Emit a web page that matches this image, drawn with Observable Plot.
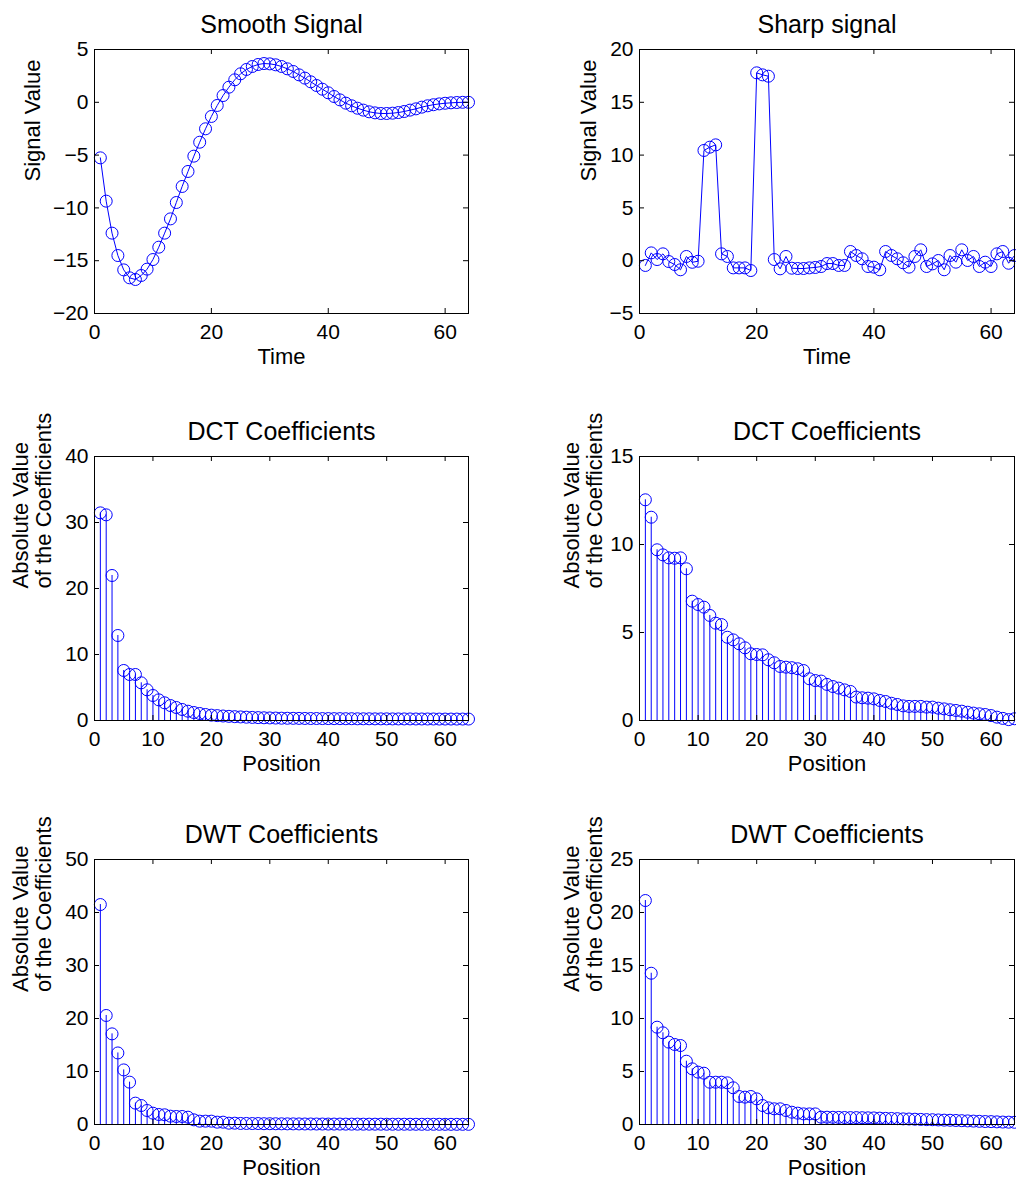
<!DOCTYPE html>
<html><head><meta charset="utf-8">
<script src="https://cdn.jsdelivr.net/npm/d3@7"></script>
<script src="https://cdn.jsdelivr.net/npm/@observablehq/plot@0.6"></script>
<style>
body{margin:0;background:#fff;}
#fig{position:relative;width:1016px;height:1178px;background:#fff;overflow:hidden;}
#fig svg{position:absolute;}
</style></head><body><div id="fig"></div>
<script>
// ---------- data ----------
const positions = d3.range(1, 65);

const smoothSignal = [-5.26,-9.36,-12.39,-14.51,-15.87,-16.62,-16.78,-16.40,-15.80,-14.89,-13.72,-12.39,-11.04,-9.49,-7.97,-6.55,-5.10,-3.78,-2.51,-1.34,-0.30,0.64,1.43,2.13,2.70,3.11,3.39,3.58,3.67,3.64,3.55,3.39,3.17,2.92,2.60,2.29,1.94,1.59,1.24,0.90,0.55,0.23,-0.08,-0.33,-0.56,-0.74,-0.90,-1.00,-1.06,-1.06,-1.03,-0.97,-0.87,-0.74,-0.62,-0.46,-0.33,-0.23,-0.15,-0.09,-0.05,-0.02,0.0,0.0];

const sharpSignal = [-0.45,0.74,0.11,0.65,-0.08,-0.36,-0.86,0.40,-0.15,-0.05,10.44,10.75,10.97,0.65,0.40,-0.68,-0.68,-0.68,-0.93,17.79,17.60,17.47,0.11,-0.77,0.40,-0.71,-0.74,-0.74,-0.68,-0.64,-0.55,-0.27,-0.27,-0.45,-0.45,0.87,0.49,0.18,-0.55,-0.61,-0.86,0.87,0.49,0.18,-0.20,-0.61,0.40,1.03,-0.55,-0.30,0.02,-0.86,0.49,-0.14,1.03,0.02,0.40,-0.55,-0.14,-0.55,0.65,0.87,-0.24,0.49];

const dctSmooth = [31.46,31.16,21.97,12.88,7.58,6.97,6.97,5.71,4.65,3.79,3.13,2.68,2.27,1.97,1.67,1.41,1.21,1.06,0.91,0.81,0.74,0.68,0.63,0.58,0.54,0.50,0.47,0.44,0.41,0.39,0.37,0.35,0.34,0.33,0.32,0.31,0.30,0.30,0.29,0.29,0.28,0.28,0.27,0.27,0.26,0.26,0.26,0.25,0.25,0.25,0.24,0.24,0.24,0.24,0.23,0.23,0.23,0.23,0.22,0.22,0.22,0.22,0.22,0.22];

const dctSharp = [12.54,11.55,9.70,9.41,9.24,9.22,9.24,8.62,6.78,6.59,6.44,5.97,5.53,5.45,4.73,4.58,4.36,4.13,3.79,3.75,3.73,3.45,3.28,3.07,3.03,3.00,2.94,2.84,2.37,2.27,2.24,2.05,1.93,1.84,1.74,1.65,1.33,1.29,1.27,1.23,1.14,1.08,0.98,0.91,0.83,0.80,0.80,0.80,0.76,0.76,0.70,0.66,0.61,0.57,0.53,0.47,0.42,0.38,0.34,0.28,0.19,0.12,0.05,0.10];

const dwtSmooth = [41.5,20.57,17.1,13.5,10.3,7.99,4.03,3.58,2.64,2.14,1.89,1.83,1.57,1.51,1.51,1.38,0.88,0.63,0.63,0.63,0.44,0.44,0.25,0.25,0.2,0.2,0.18,0.18,0.15,0.15,0.14,0.13,0.12,0.12,0.11,0.10,0.10,0.09,0.09,0.08,0.08,0.08,0.07,0.07,0.07,0.06,0.06,0.06,0.06,0.05,0.05,0.05,0.05,0.05,0.04,0.04,0.04,0.04,0.04,0.03,0.03,0.03,0.03,0.03];

const dwtSharp = [21.13,14.27,9.18,8.65,7.77,7.55,7.45,5.97,5.25,4.94,4.84,3.99,3.99,3.99,3.93,3.46,2.64,2.58,2.64,2.42,1.79,1.57,1.48,1.48,1.32,1.16,1.07,1.00,1.00,1.00,0.69,0.69,0.68,0.67,0.66,0.65,0.65,0.64,0.63,0.62,0.60,0.58,0.57,0.55,0.53,0.52,0.50,0.48,0.46,0.45,0.43,0.41,0.40,0.38,0.36,0.34,0.32,0.30,0.28,0.27,0.25,0.23,0.22,0.21];

// tick values
const xTicksSignal = [0, 20, 40, 60];
const xTicksCoef = [0, 10, 20, 30, 40, 50, 60];
const yTicksSmooth = [-20, -15, -10, -5, 0, 5];
const yTicksSharp = [-5, 0, 5, 10, 15, 20];
const yTicksDctSmooth = [0, 10, 20, 30, 40];
const yTicksDctSharp = [0, 5, 10, 15];
const yTicksDwtSmooth = [0, 10, 20, 30, 40, 50];
const yTicksDwtSharp = [0, 5, 10, 15, 20, 25];

// titles & labels
const titles = ["Smooth Signal", "Sharp signal", "DCT Coefficients", "DCT Coefficients", "DWT Coefficients", "DWT Coefficients"];
const xLabels = ["Time", "Time", "Position", "Position", "Position", "Position"];
const yLabels = ["Signal Value", "Signal Value", "Absolute Value\nof the Coefficients", "Absolute Value\nof the Coefficients", "Absolute Value\nof the Coefficients", "Absolute Value\nof the Coefficients"];

// ---------- layout ----------
const panels = [
  {values: smoothSignal, kind: "line", yDomain: [-20, 5], yTicks: yTicksSmooth, xTicks: xTicksSignal, left: 94, top: 49, w: 374, h: 264, ylDx: -62},
  {values: sharpSignal, kind: "line", yDomain: [-5, 20], yTicks: yTicksSharp, xTicks: xTicksSignal, left: 639, top: 49, w: 375, h: 264, ylDx: -51},
  {values: dctSmooth, kind: "stem", yDomain: [0, 40], yTicks: yTicksDctSmooth, xTicks: xTicksCoef, left: 94, top: 456, w: 374, h: 264, ylDx: -62},
  {values: dctSharp, kind: "stem", yDomain: [0, 15], yTicks: yTicksDctSharp, xTicks: xTicksCoef, left: 639, top: 456, w: 375, h: 264, ylDx: -56},
  {values: dwtSmooth, kind: "stem", yDomain: [0, 50], yTicks: yTicksDwtSmooth, xTicks: xTicksCoef, left: 94, top: 859, w: 374, h: 265, ylDx: -62},
  {values: dwtSharp, kind: "stem", yDomain: [0, 25], yTicks: yTicksDwtSharp, xTicks: xTicksCoef, left: 639, top: 859, w: 375, h: 265, ylDx: -56}
];

const FONT = "'Liberation Sans', Arial, Helvetica, sans-serif";
const BLUE = "#0000ff";
const fig = document.getElementById("fig");
const mL = 110, mR = 14, mT = 55, mB = 62;
const fmt = d => (d < 0 ? "\u2212" + Math.abs(d) : String(d));

panels.forEach((p, i) => {
  const data = p.values.map((v, k) => ({x: positions[k], y: v}));
  const tl = 5;
  const marks = [];
  if (p.kind === "line") {
    marks.push(Plot.line(data, {x: "x", y: "y", stroke: BLUE, strokeWidth: 1}));
  } else {
    marks.push(Plot.ruleX(data, {x: "x", y1: () => 0, y2: "y", stroke: BLUE, strokeWidth: 1}));
    marks.push(Plot.ruleY([0], {stroke: "black", strokeWidth: 1}));
  }
  marks.push(Plot.dot(data, {x: "x", y: "y", r: 6, stroke: BLUE, fill: "none", strokeWidth: 1}));
  marks.push(
    Plot.tickX(p.xTicks, {x: d => d, insetTop: p.h - tl, stroke: "black"}),
    Plot.tickX(p.xTicks, {x: d => d, insetBottom: p.h - tl, stroke: "black"}),
    Plot.tickY(p.yTicks, {y: d => d, insetLeft: p.w - tl, stroke: "black"}),
    Plot.tickY(p.yTicks, {y: d => d, insetRight: p.w - tl, stroke: "black"}),
    Plot.frame({stroke: "black", strokeWidth: 1}),
    Plot.text([titles[i]], {text: d => d, frameAnchor: "top", lineAnchor: "bottom", dy: -17, fontSize: 25, fill: "black"}),
    Plot.text([xLabels[i]], {text: d => d, frameAnchor: "bottom", lineAnchor: "bottom", dy: 50, fontSize: 22, fill: "black"}),
    Plot.text([yLabels[i]], {text: d => d, frameAnchor: "left", lineAnchor: "middle", rotate: -90, dx: p.ylDx, fontSize: 22, lineHeight: 1.05, fill: "black"})
  );
  const chart = Plot.plot({
    width: p.w + mL + mR,
    height: p.h + mT + mB,
    marginLeft: mL, marginRight: mR, marginTop: mT, marginBottom: mB,
    style: {background: "transparent", fontFamily: FONT, fontSize: "21px", color: "black", overflow: "visible"},
    x: {domain: [0, 64], ticks: p.xTicks, tickSize: 0, tickPadding: 11, label: null, tickFormat: fmt},
    y: {domain: p.yDomain, ticks: p.yTicks, tickSize: 0, tickPadding: 6, label: null, tickFormat: fmt},
    marks
  });
  chart.style.left = (p.left - mL) + "px";
  chart.style.top = (p.top - mT) + "px";
  chart.style.position = "absolute";
  chart.style.maxWidth = "none";
  fig.appendChild(chart);
});
</script></body></html>
